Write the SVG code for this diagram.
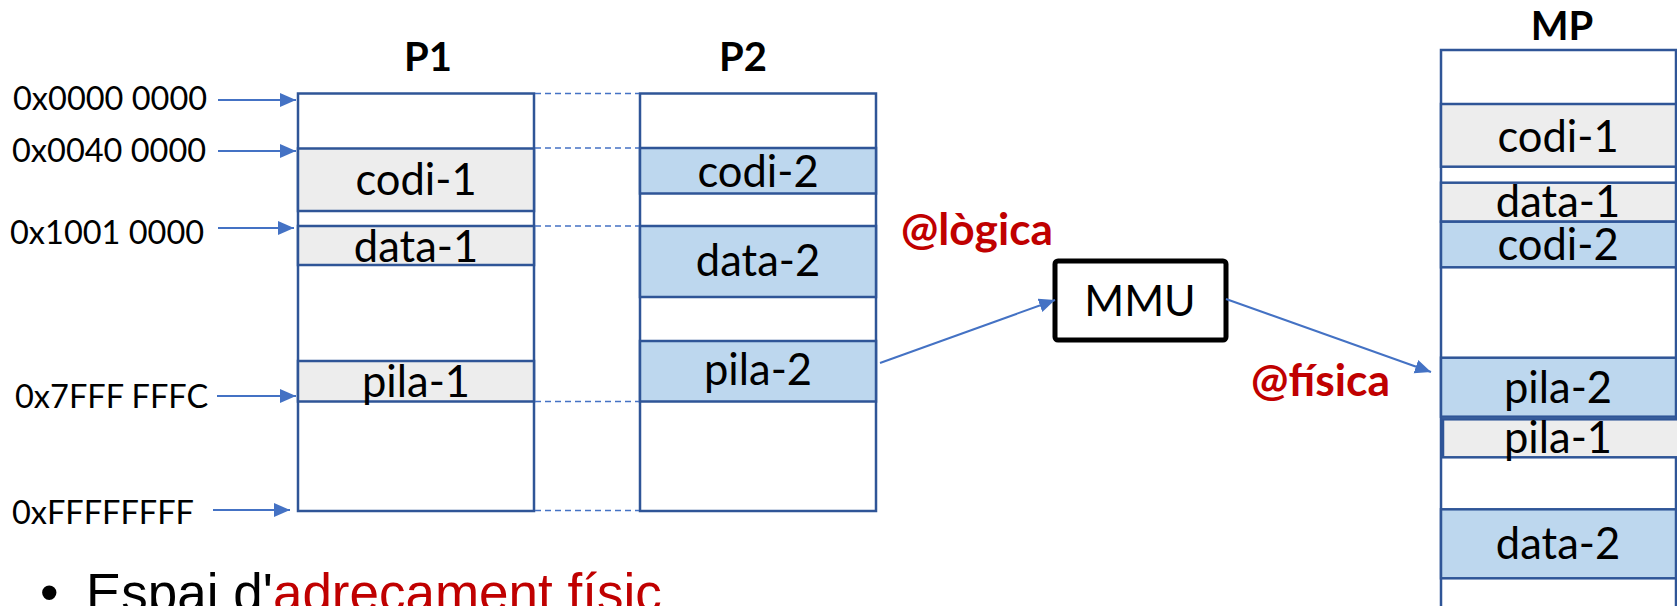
<svg xmlns="http://www.w3.org/2000/svg" width="1677" height="606" viewBox="0 0 1677 606">
<defs>
<style>
.box{fill:#FFFFFF;stroke:#2F5597;stroke-width:2.5}
.g{fill:#EDEDED;stroke:#2F5597;stroke-width:2.5}
.b{fill:#BDD7EE;stroke:#2F5597;stroke-width:2.5}
.seg{font-family:Lato,"Open Sans",sans-serif;font-size:43.5px;fill:#000;text-anchor:middle}
.addr{font-family:Lato,"Open Sans",sans-serif;font-size:32.5px;fill:#000}
.ttl{font-family:Lato,"Open Sans",sans-serif;font-size:40px;font-weight:bold;fill:#000;text-anchor:middle}
.red{font-family:Lato,"Open Sans",sans-serif;font-size:44px;font-weight:bold;fill:#C00000}
.arr{stroke:#4472C4;stroke-width:2;fill:none;marker-end:url(#ah)}
.dash{stroke:#4472C4;stroke-width:1.3;stroke-dasharray:6 4;fill:none}
</style>
<marker id="ah" markerUnits="userSpaceOnUse" markerWidth="17" markerHeight="15" refX="16" refY="7" orient="auto">
<path d="M0,0 L16,7 L0,14 z" fill="#4472C4"/>
</marker>
</defs>

<g id="P1">
<text class="ttl" x="428" y="71">P1</text>
<rect class="box" x="298" y="93.5" width="236" height="417.5"/>
<rect class="g" x="298" y="148.5" width="236" height="62.5"/>
<rect class="g" x="298" y="226" width="236" height="39"/>
<rect class="g" x="298" y="361" width="236" height="40.5"/>
<text class="seg" x="416" y="195">codi-1</text>
<text class="seg" x="416" y="262">data-1</text>
<text class="seg" x="416" y="397">pila-1</text>
</g>

<g id="P2">
<text class="ttl" x="743" y="71">P2</text>
<rect class="box" x="640" y="93.5" width="236" height="417.5"/>
<rect class="b" x="640" y="148" width="236" height="45.5"/>
<rect class="b" x="640" y="226" width="236" height="71"/>
<rect class="b" x="640" y="341" width="236" height="60.5"/>
<text class="seg" x="758" y="187">codi-2</text>
<text class="seg" x="758" y="276">data-2</text>
<text class="seg" x="758" y="385">pila-2</text>
</g>

<g id="addresses">
<text class="addr" x="13" y="110">0x0000 0000</text>
<text class="addr" x="12" y="162">0x0040 0000</text>
<text class="addr" x="10" y="244">0x1001 0000</text>
<text class="addr" x="15" y="408">0x7FFF FFFC</text>
<text class="addr" x="12" y="524">0xFFFFFFFF</text>
</g>

<g id="MMU">
<rect x="1055" y="261" width="171" height="79" rx="3" fill="#FFFFFF" stroke="#000" stroke-width="5"/>
<text x="1140" y="316" font-family="Lato, 'Open Sans', sans-serif" font-size="43" text-anchor="middle">MMU</text>
</g>

<g id="MP">
<text class="ttl" x="1562" y="40">MP</text>
<rect class="box" x="1441" y="50" width="235" height="570"/>
<rect class="g" x="1441" y="104" width="235" height="62.7"/>
<rect class="g" x="1441" y="182.7" width="235" height="39"/>
<rect class="b" x="1441" y="221.7" width="235" height="45.6"/>
<rect class="b" x="1441" y="357.7" width="235" height="59"/>
<rect class="g" x="1443" y="419.3" width="236" height="38"/>
<rect class="b" x="1441" y="509.3" width="235" height="69"/>
<text class="seg" x="1558" y="152">codi-1</text>
<text class="seg" x="1558" y="217">data-1</text>
<text class="seg" x="1558" y="260">codi-2</text>
<text class="seg" x="1558" y="403">pila-2</text>
<text class="seg" x="1558" y="453">pila-1</text>
<text class="seg" x="1558" y="559">data-2</text>
</g>

<g id="labels">
<text class="red" x="901" y="245" textLength="152" lengthAdjust="spacingAndGlyphs">@lògica</text>
<text class="red" x="1251" y="396" textLength="139" lengthAdjust="spacingAndGlyphs">@física</text>
</g>

<g id="connectors">
<line class="arr" x1="218" y1="100" x2="296" y2="100"/>
<line class="arr" x1="218" y1="151" x2="296" y2="151"/>
<line class="arr" x1="218" y1="228" x2="294" y2="228"/>
<line class="arr" x1="217" y1="396" x2="296" y2="396"/>
<line class="arr" x1="213" y1="510" x2="290" y2="510"/>
<line class="dash" x1="535" y1="93.5" x2="639" y2="93.5"/>
<line class="dash" x1="535" y1="148" x2="639" y2="148"/>
<line class="dash" x1="535" y1="226" x2="639" y2="226"/>
<line class="dash" x1="535" y1="401.5" x2="639" y2="401.5"/>
<line class="dash" x1="535" y1="510.5" x2="639" y2="510.5"/>
<line class="arr" x1="880" y1="363" x2="1055" y2="300"/>
<line class="arr" x1="1226" y1="299" x2="1431" y2="372"/>
</g>

<g id="bullet">
<text x="40" y="611" font-family="'Liberation Sans', Arial, sans-serif" font-size="53" fill="#000">•</text>
<text x="86" y="611" font-family="'Liberation Sans', Arial, sans-serif" font-size="53" fill="#000">Espai d'<tspan fill="#C00000">adreçament físic</tspan></text>
</g>
</svg>
